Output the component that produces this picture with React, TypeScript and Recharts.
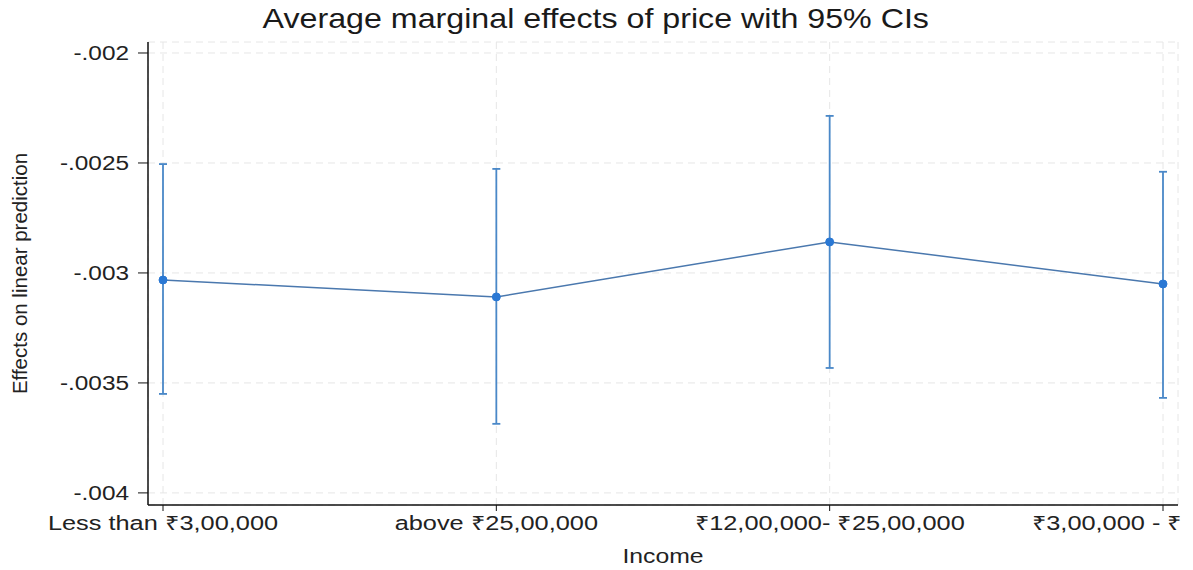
import {
  LineChart,
  Line,
  XAxis,
  YAxis,
  CartesianGrid,
  ErrorBar,
} from "recharts";

const categories = [
  "Less than ₹3,00,000",
  "above ₹25,00,000",
  "₹12,00,000- ₹25,00,000",
  "₹3,00,000 - ₹",
];
const effect = [-0.003032, -0.003109, -0.002859, -0.00305];
const ciLow = [-0.00355, -0.003686, -0.003432, -0.003568];
const ciHigh = [-0.002505, -0.002527, -0.002286, -0.00254];
const yTicks = [-0.004, -0.0035, -0.003, -0.0025, -0.002];

const data = categories.map((c, i) => ({
  x: i,
  effect: effect[i],
  ci: [effect[i] - ciLow[i], ciHigh[i] - effect[i]],
}));

const FONT = "'Liberation Sans', Arial, sans-serif";
const TEXT = "#222";

// Stata-style tick labels: "-.0025" rather than "-0.0025"
const fmtY = (v: number) => {
  const s = String(Number(v.toFixed(5)));
  return s.replace(/^(-?)0\./, "$1.");
};

// widened Helvetica-like labels
const XTick = (props: any) => {
  const { x, y, payload, index } = props;
  const last = index === categories.length - 1;
  return (
    <text
      transform={`translate(${last ? x + 19 : x},${y}) scale(1.3,1)`}
      textAnchor={last ? "end" : "middle"}
      dy="0.75em"
      fontSize={19.5}
      fontFamily={FONT}
      fill={TEXT}
    >
      {categories[payload.value]}
    </text>
  );
};

const YTick = (props: any) => {
  const { x, y, payload } = props;
  return (
    <text
      transform={`translate(${x},${y}) scale(1.25,1)`}
      textAnchor="end"
      dy="0.36em"
      fontSize={19.5}
      fontFamily={FONT}
      fill={TEXT}
    >
      {fmtY(payload.value)}
    </text>
  );
};

const XLabel = (props: any) => {
  const { viewBox } = props;
  const cx = viewBox.x + viewBox.width / 2;
  return (
    <text
      transform={`translate(${cx},${viewBox.y + 58}) scale(1.27,1)`}
      textAnchor="middle"
      fontSize={19.5}
      fontFamily={FONT}
      fill={TEXT}
    >
      Income
    </text>
  );
};

export default function App() {
  return (
    <div
      style={{
        position: "fixed",
        left: 0,
        top: 0,
        width: 1193,
        height: 570,
        background: "#fff",
        fontFamily: FONT,
      }}
    >
      <div
        style={{
          position: "absolute",
          top: 3,
          left: 0,
          width: 1193,
          textAlign: "center",
          fontSize: 28,
          color: "#1a1a1a",
        }}
      >
        <span style={{ display: "inline-block", transform: "scaleX(1.15)", marginLeft: -2 }}>
          Average marginal effects of price with 95% CIs
        </span>
      </div>
      <LineChart
        width={1193}
        height={570}
        data={data}
        margin={{ top: 42, right: 15, bottom: 0, left: 0 }}
      >
        <CartesianGrid stroke="#e6e6e6" strokeDasharray="7 5" />
        <XAxis
          dataKey="x"
          type="number"
          domain={[-0.045, 3.045]}
          ticks={[0, 1, 2, 3]}
          interval={0}
          height={65}
          axisLine={{ stroke: "#111", strokeWidth: 1.5 }}
          tickLine={{ stroke: "#111" }}
          tickSize={6}
          tickMargin={4}
          tick={<XTick />}
          label={<XLabel />}
        />
        <YAxis
          type="number"
          domain={[-0.004055, -0.00195]}
          ticks={yTicks}
          width={148}
          axisLine={{ stroke: "#111", strokeWidth: 1.5 }}
          tickLine={{ stroke: "#111" }}
          tickSize={10}
          tickMargin={9}
          tick={<YTick />}
          allowDataOverflow
          label={{
            value: "Effects on linear prediction",
            angle: -90,
            position: "insideLeft",
            offset: 20,
            style: { textAnchor: "middle" },
            fontSize: 20.5,
            fill: TEXT,
            fontFamily: FONT,
          }}
        />
        <Line
          type="linear"
          dataKey="effect"
          stroke="#4a78ae"
          strokeWidth={1.5}
          dot={{ r: 4, fill: "#2a78d4", stroke: "#2a78d4", strokeWidth: 1 }}
          activeDot={false}
          isAnimationActive={false}
        >
          <ErrorBar
            dataKey="ci"
            direction="y"
            width={4}
            stroke="#4a88c8"
            strokeWidth={1.8}
            isAnimationActive={false}
          />
        </Line>
      </LineChart>
    </div>
  );
}
